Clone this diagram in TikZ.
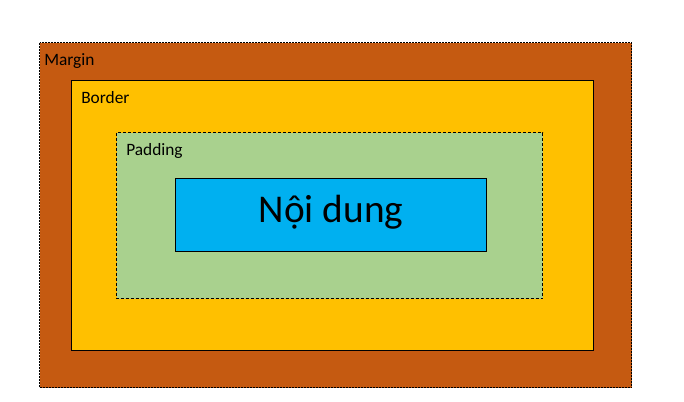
\documentclass[tikz,border=0pt]{standalone}
\usepackage{fontspec}
\setmainfont{Carlito}
\definecolor{marginc}{HTML}{C55A11}
\definecolor{borderc}{HTML}{FFC000}
\definecolor{paddingc}{HTML}{A9D18E}
\definecolor{contentc}{HTML}{00B0F0}
\tikzset{
  box/.style={line width=0.75pt, draw=black},
  lbl/.style={anchor=base west, inner sep=0pt, font=\fontsize{13}{15}\selectfont},
}
\begin{document}
\begin{tikzpicture}[x=0.75pt,y=-0.75pt]
\useasboundingbox (0,0) rectangle (684,401);
\filldraw[box, fill=marginc, dash pattern=on 1.5pt off 0.75pt] (39.5,42.5) coordinate (m1) rectangle (631.5,387.5) coordinate (m2);
\filldraw[box, fill=borderc] (71.5,80.5) coordinate (b1) rectangle (593.5,350.5) coordinate (b2);
\filldraw[box, fill=paddingc, dash pattern=on 2.25pt off 1.5pt] (116.5,132.5) coordinate (p1) rectangle (542.5,298.5) coordinate (p2);
\filldraw[box, fill=contentc] (175.5,178.5) coordinate (c1) rectangle (486.5,251.5) coordinate (c2);
\node[lbl] (lm) at (44,65) {Margin};
\node[lbl] (lb) at (81,103) {Border};
\node[lbl] (lp) at (126,155) {Padding};
\node[anchor=base, inner sep=0pt, font=\fontsize{29.5}{34}\selectfont] (lc) at (331,222) {Nội dung};
\end{tikzpicture}
\end{document}
